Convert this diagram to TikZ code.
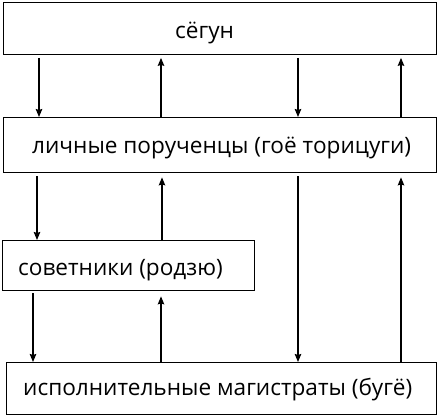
\documentclass[tikz,border=0pt]{standalone}
\usepackage{fontspec}
\setmainfont{Open Sans}
\usetikzlibrary{arrows.meta}
\begin{document}
\begin{tikzpicture}[x=1pt,y=-1pt,
  box/.style={draw,line width=1.4pt,rectangle,inner sep=0pt,anchor=north west},
  lbl/.style={anchor=base west,inner sep=0pt,font=\fontsize{22.6}{26}\selectfont},
  arr/.style={line width=1.2pt,-{Stealth[length=8pt,width=6.5pt,inset=1pt]}}]
\useasboundingbox (0,0) rectangle (437,415);
\node[box,minimum width=433pt,minimum height=52pt] (b1) at (3,1.5) {};
\node[box,minimum width=433pt,minimum height=55pt] (b2) at (3,117) {};
\node[box,minimum width=252pt,minimum height=50pt] (b3) at (2,240) {};
\node[box,minimum width=430pt,minimum height=52pt] (b4) at (6,362) {};
\node[lbl] (t1) at (175,38) {сёгун};
\node[lbl] (t2) at (32,153) {личные порученцы (гоё торицуги)};
\node[lbl] (t3) at (18,275) {советники (родзю)};
\node[lbl] (t4) at (23,395) {исполнительные магистраты (бугё)};
\coordinate (xa) at (39,0);
\coordinate (xb) at (161,0);
\coordinate (xc) at (298,0);
\coordinate (xd) at (401,0);
\coordinate (xe) at (37,0);
\coordinate (xf) at (162,0);
\coordinate (xg) at (33,0);
\draw[arr,shorten <=3pt] (b1.south -| xa) -- (b2.north -| xa);
\draw[arr,shorten >=3pt] (b2.north -| xb) -- (b1.south -| xb);
\draw[arr,shorten <=3pt] (b1.south -| xc) -- (b2.north -| xc);
\draw[arr,shorten >=3pt] (b2.north -| xd) -- (b1.south -| xd);
\draw[arr,shorten <=3pt] (b2.south -| xe) -- (b3.north -| xe);
\draw[arr,shorten >=4pt] (b3.north -| xf) -- (b2.south -| xf);
\draw[arr,shorten <=2pt] (b3.south -| xg) -- (b4.north -| xg);
\draw[arr,shorten >=5pt] (b4.north -| xb) -- (b3.south -| xb);
\draw[arr,shorten <=3pt] (b2.south -| xc) -- (b4.north -| xc);
\draw[arr,shorten >=4pt] (b4.north -| xd) -- (b2.south -| xd);
\end{tikzpicture}
\end{document}
